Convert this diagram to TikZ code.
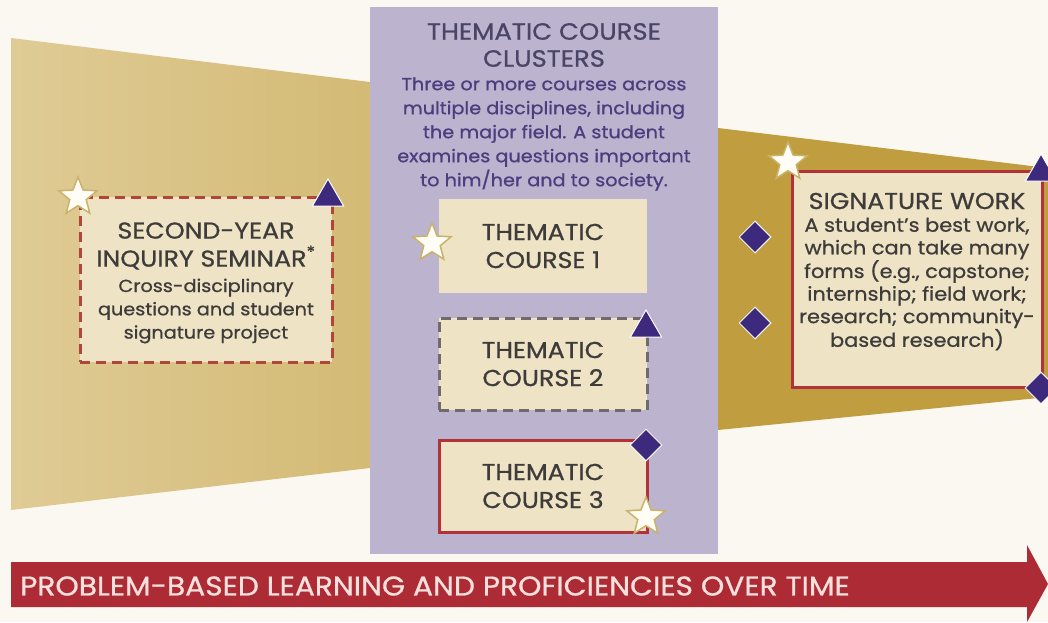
\documentclass[tikz,border=0pt]{standalone}
\usepackage{fontspec}
\setmainfont{Poppins}[FakeStretch=1.1, FakeBold=0.8]
\usetikzlibrary{shapes.geometric}
\definecolor{bg}{HTML}{FBF8F1}
\definecolor{goldL}{HTML}{DFCB95}
\definecolor{goldR}{HTML}{D3BA75}
\definecolor{goldD}{HTML}{C09D3F}
\definecolor{lav}{HTML}{BCB3CF}
\definecolor{cream}{HTML}{EEE3C4}
\definecolor{redb}{HTML}{B3323A}
\definecolor{dashred}{HTML}{B0463A}
\definecolor{grayb}{HTML}{6F6B6C}
\definecolor{purp}{HTML}{3D2A7C}
\definecolor{txt}{HTML}{3E3B3B}
\definecolor{ptxt}{HTML}{4B3D7E}
\definecolor{ptitle}{HTML}{4A4466}
\definecolor{arrowred}{HTML}{AD2B34}
\definecolor{arrowtxt}{HTML}{F8E0DC}
\definecolor{startop}{HTML}{FFFDF5}
\definecolor{starline}{HTML}{C9B36A}
\tikzset{
  coursebox/.style={fill=cream, inner sep=0pt},
  headtxt/.style={text=txt, align=center, font=\fontsize{23}{28}\selectfont},
  bodytxt/.style={text=txt, align=center, font=\fontsize{17.5}{23.3}\selectfont},
  startag/.style={star, star points=5, star point ratio=2.3, minimum size=40pt, inner sep=0pt, fill=startop, draw=starline, line width=1.5pt},
  tritag/.style={regular polygon, regular polygon sides=3, minimum size=36pt, inner sep=0pt, fill=purp, draw=white, line width=1pt},
  diatag/.style={diamond, minimum width=32pt, minimum height=32pt, inner sep=0pt, fill=purp, draw=bg, line width=1pt},
}
\begin{document}
\begin{tikzpicture}[x=1pt, y=-1pt]
\useasboundingbox (0,0) rectangle (1048,622);
\fill[bg] (0,0) rectangle (1048,622);
% gold bands
\shade[left color=goldL, right color=goldR] (11,38) -- (370,82) -- (370,468) -- (11,510) -- cycle;
\fill[goldD] (718,128) -- (1048,168) -- (1048,397) -- (718,430) -- cycle;
% purple cluster panel
\node[fill=lav, inner sep=0pt, minimum width=348pt, minimum height=547pt] (panel) at (544,280.5) {};
\node[text=ptitle, align=center, font=\fontsize{23.5}{27}\selectfont] (ptitle) at (544,45) {THEMATIC COURSE\\CLUSTERS};
\node[text=ptxt, align=center, font=\fontsize{17.5}{24}\selectfont] (pbody) at (544,134) {Three or more courses across\\multiple disciplines, including\\the major field. A student\\examines questions important\\to him/her and to society.};
% seminar
\node[coursebox, draw=dashred, line width=3pt, dash pattern=on 10pt off 6pt, minimum width=252pt, minimum height=165pt] (sem) at (206,279.5) {};
\node[headtxt] (semh) at (206,246) {SECOND-YEAR\\INQUIRY SEMINAR\textsuperscript{*}};
\node[bodytxt] (semb) at (206,311) {Cross-disciplinary\\questions and student\\signature project};
\node[startag] (s1) at (78,197) {};
\node[tritag] (t1) at (328,197) {};
% courses
\node[coursebox, minimum width=208pt, minimum height=94pt] (c1) at (543,246) {};
\node[headtxt] at (c1.center) {THEMATIC\\COURSE 1};
\node[startag] (s2) at (432,243) {};
\node[coursebox, draw=grayb, line width=3pt, dash pattern=on 10pt off 6pt, minimum width=208pt, minimum height=92pt] (c2) at (543,364) {};
\node[headtxt] at (c2.center) {THEMATIC\\COURSE 2};
\node[tritag] (t2) at (646,328) {};
\node[coursebox, draw=redb, line width=3pt, minimum width=208pt, minimum height=92pt] (c3) at (543,486) {};
\node[headtxt] at (c3.center) {THEMATIC\\COURSE 3};
\node[diatag] (d1) at (646,445) {};
\node[startag] (s3) at (646,517) {};
% signature work
\node[coursebox, draw=redb, line width=3pt, minimum width=250pt, minimum height=216pt] (sig) at (917,279.5) {};
\node[headtxt] (sigh) at (917,201) {SIGNATURE WORK};
\node[bodytxt, font=\fontsize{19}{22.6}\selectfont] (sigb) at (917,284) {A student’s best work,\\which can take many\\forms (e.g., capstone;\\internship; field work;\\research; community-\\based research)};
\node[startag] (s4) at (788,162) {};
\node[tritag] (t3) at (1041,172) {};
\node[diatag] (d2) at (1041,388) {};
\node[diatag] (d3) at (755,237) {};
\node[diatag] (d4) at (755,323) {};
% bottom arrow
\fill[arrowred] (11,562) -- (1027,562) -- (1027,545) -- (1048,584) -- (1027,622) -- (1027,607) -- (11,607) -- cycle;
\node[anchor=west, text=arrowtxt, font=\fontsize{27}{30}\selectfont, inner sep=0pt] (arrtxt) at (20,586) {PROBLEM-BASED LEARNING AND PROFICIENCIES OVER TIME};
\end{tikzpicture}
\end{document}
